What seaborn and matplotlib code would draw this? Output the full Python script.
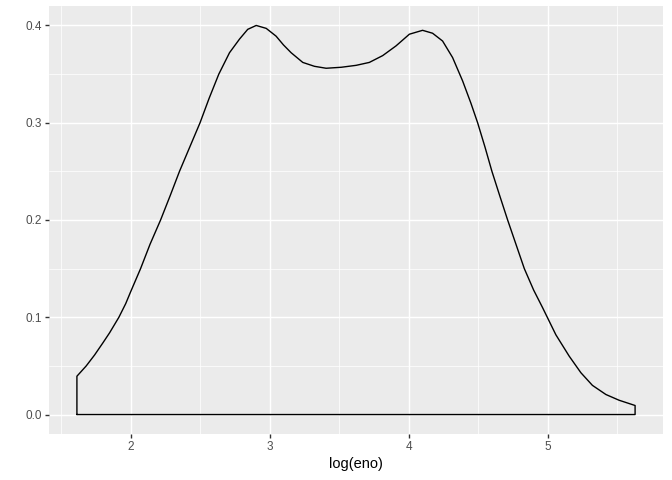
import matplotlib
matplotlib.use("Agg")
import matplotlib.pyplot as plt
import seaborn as sns
import pandas as pd
from matplotlib.ticker import FixedLocator

# Density curve values
log_eno = [1.614, 1.681, 1.741, 1.801, 1.849, 1.916, 1.965, 2.000, 2.072, 2.140,
           2.216, 2.285, 2.352, 2.426, 2.500, 2.565, 2.635, 2.712, 2.784, 2.843,
           2.904, 2.976, 3.047, 3.100, 3.155, 3.239, 3.323, 3.407, 3.515, 3.623,
           3.718, 3.814, 3.910, 4.006, 4.101, 4.173, 4.245, 4.317, 4.389, 4.449,
           4.497, 4.550, 4.600, 4.656, 4.713, 4.773, 4.833, 4.900, 4.964, 5.060,
           5.156, 5.240, 5.323, 5.420, 5.515, 5.630]
density = [0.0394, 0.0500, 0.0612, 0.0737, 0.0840, 0.1000, 0.1140, 0.1260, 0.1500, 0.1750,
           0.2000, 0.2250, 0.2500, 0.2750, 0.3000, 0.3250, 0.3500, 0.3720, 0.3860, 0.3960,
           0.4000, 0.3970, 0.3890, 0.3800, 0.3720, 0.3620, 0.3580, 0.3560, 0.3570, 0.3590,
           0.3620, 0.3690, 0.3790, 0.3910, 0.3950, 0.3920, 0.3840, 0.3670, 0.3430, 0.3200,
           0.3000, 0.2750, 0.2500, 0.2250, 0.2000, 0.1750, 0.1500, 0.1280, 0.1100, 0.0820,
           0.0600, 0.0430, 0.0300, 0.0206, 0.0147, 0.0093]

x_ticks = [2, 3, 4, 5]
y_ticks = [0.0, 0.1, 0.2, 0.3, 0.4]
y_tick_labels = ["0.0", "0.1", "0.2", "0.3", "0.4"]
x_label = "log(eno)"

# Closed outline like geom_density (no fill)
poly_x = [log_eno[0]] + log_eno + [log_eno[-1], log_eno[0]]
poly_y = [0.0] + density + [0.0, 0.0]
df = pd.DataFrame({"x": poly_x, "y": poly_y})

sns.set_theme(style="darkgrid")
plt.rcParams["font.family"] = ["Liberation Sans", "DejaVu Sans"]

fig = plt.figure(figsize=(6.72, 4.8), dpi=100)
ax = fig.add_axes([49 / 672, 1 - 434 / 480, (663 - 49) / 672, (434 - 6) / 480])
ax.set_facecolor("#EBEBEB")

sns.lineplot(data=df, x="x", y="y", sort=False, estimator=None, color="black",
             linewidth=1.0, ax=ax)

xmin, xmax = min(log_eno), max(log_eno)
pad = (xmax - xmin) * 0.05
ax.set_xlim(xmin - pad, xmax + pad)
ymax = max(density)
ax.set_ylim(-ymax * 0.05, ymax * 1.05)

ax.xaxis.set_major_locator(FixedLocator(x_ticks))
ax.xaxis.set_minor_locator(FixedLocator([1.5, 2.5, 3.5, 4.5, 5.5]))
ax.yaxis.set_major_locator(FixedLocator(y_ticks))
ax.yaxis.set_minor_locator(FixedLocator([0.05, 0.15, 0.25, 0.35]))
ax.set_yticklabels(y_tick_labels)
ax.set_xticklabels([str(t) for t in x_ticks])

ax.grid(which="major", color="white", linewidth=1.02)
ax.grid(which="minor", color="white", linewidth=0.51)
ax.set_axisbelow(True)
for s in ax.spines.values():
    s.set_visible(False)

ax.tick_params(axis="both", which="major", length=2.64, width=1.0, color="#333333",
               labelsize=8.45, labelcolor="#4D4D4D", pad=2.2, bottom=True, left=True)
ax.tick_params(axis="both", which="minor", length=0)

ax.set_xlabel(x_label, fontsize=10.56, color="black", labelpad=3)
ax.set_ylabel("")

fig.savefig("out.png", dpi=100)
